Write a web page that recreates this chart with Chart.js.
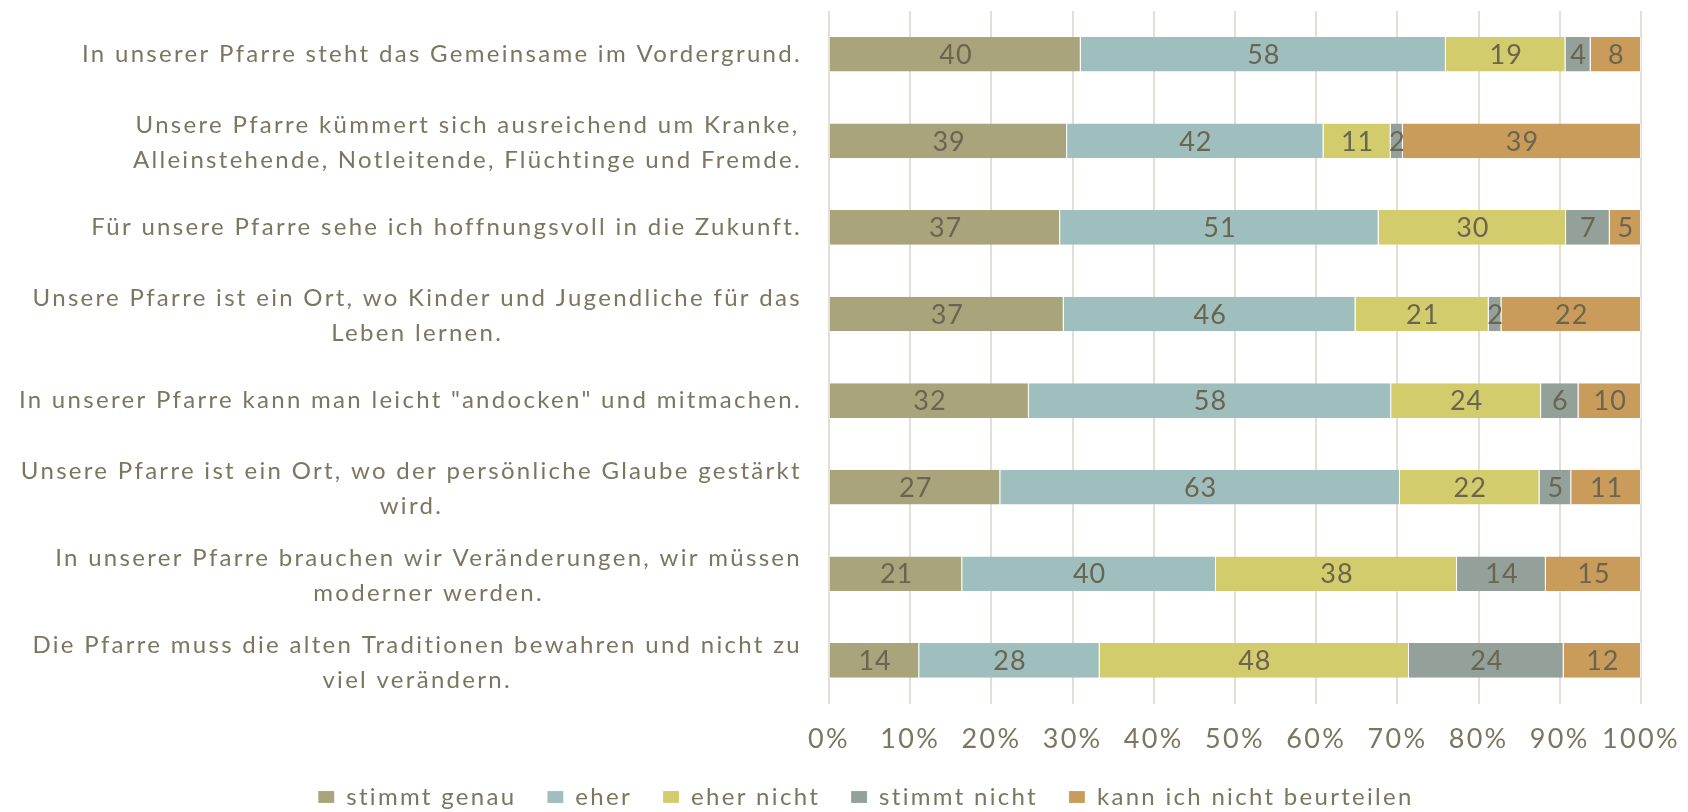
<!DOCTYPE html>
<html>
<head>
<meta charset="utf-8">
<script src="https://cdn.jsdelivr.net/npm/chart.js@4"></script>
<style>
  html, body { margin: 0; padding: 0; background: #ffffff; }
  #wrap { width: 1688px; height: 812px; position: relative; }
</style>
</head>
<body>
<div id="wrap"><canvas id="pfarreChart"></canvas></div>
<script>
const categories = [
  "In unserer Pfarre steht das Gemeinsame im Vordergrund.",
  ["Unsere Pfarre kümmert sich ausreichend um Kranke,", "Alleinstehende, Notleitende, Flüchtinge und Fremde."],
  "Für unsere Pfarre sehe ich hoffnungsvoll in die Zukunft.",
  ["Unsere Pfarre ist ein Ort, wo Kinder und Jugendliche für das", "Leben lernen."],
  "In unserer Pfarre kann man leicht \"andocken\" und mitmachen.",
  ["Unsere Pfarre ist ein Ort, wo der persönliche Glaube gestärkt", "wird."],
  ["In unserer Pfarre brauchen wir Veränderungen, wir müssen", "moderner werden."],
  ["Die Pfarre muss die alten Traditionen bewahren und nicht zu", "viel verändern."]
];

const seriesNames = ["stimmt genau", "eher", "eher nicht", "stimmt nicht", "kann ich nicht beurteilen"];

// counts per answer, one value per statement
const stimmtGenau = [40, 39, 37, 37, 32, 27, 21, 14];
const eher = [58, 42, 51, 46, 58, 63, 40, 28];
const eherNicht = [19, 11, 30, 21, 24, 22, 38, 48];
const stimmtNicht = [4, 2, 7, 2, 6, 5, 14, 24];
const kannNicht = [8, 39, 5, 22, 10, 11, 15, 12];

const xTicks = [0, 10, 20, 30, 40, 50, 60, 70, 80, 90, 100];

const colors = ["#a9a47c", "#9ebfbe", "#d3cc6c", "#93a19a", "#c99c5b"];
const textColor = "#7d7560";
const labelColor = "#6b6550";
const fontFamily = "Lato, 'Open Sans', sans-serif";
const spacing = "2.3px";

const counts = [stimmtGenau, eher, eherNicht, stimmtNicht, kannNicht];
const totals = categories.map((_, i) => counts.reduce((s, arr) => s + arr[i], 0));

const datasets = counts.map((arr, k) => ({
  label: seriesNames[k],
  data: arr.map((v, i) => (v / totals[i]) * 100),
  raw: arr,
  backgroundColor: colors[k],
  borderColor: "rgba(255,255,255,0.55)",
  borderWidth: { top: 0, bottom: 0, left: 0, right: 1 },
  borderSkipped: false,
  barPercentage: 0.4,
  categoryPercentage: 1.0,
}));

// wider letter spacing to get closer to the original's airy font
const letterSpacing = {
  id: "letterSpacing",
  beforeUpdate(chart) {
    chart.ctx.letterSpacing = spacing;
  },
  beforeDraw(chart) {
    chart.ctx.letterSpacing = spacing;
  },
};

// legend sits closer to the tick labels than Chart.js puts it
const legendShift = {
  id: "legendShift",
  afterLayout(chart) {
    chart.legend.top -= 20;
    chart.legend.bottom -= 20;
  },
};

// statement labels: lines centered on each other, block right-aligned
const categoryLabels = {
  id: "categoryLabels",
  afterDraw(chart) {
    const ctx = chart.ctx;
    const yScale = chart.scales.y;
    const right = chart.chartArea.left - 27;
    const lineHeight = 35;
    ctx.save();
    ctx.letterSpacing = spacing;
    ctx.font = "24px " + fontFamily;
    ctx.fillStyle = textColor;
    ctx.textAlign = "center";
    ctx.textBaseline = "middle";
    categories.forEach((lab, i) => {
      const lines = Array.isArray(lab) ? lab : [lab];
      const w = Math.max(...lines.map((l) => ctx.measureText(l).width));
      const cx = right - w / 2;
      const cy = yScale.getPixelForValue(i) + (lines.length > 1 ? 2 : 0);
      lines.forEach((l, j) => {
        ctx.fillText(l, cx, cy + (j - (lines.length - 1) / 2) * lineHeight);
      });
    });
    ctx.restore();
  },
};

// value labels inside the bar segments
const segmentLabels = {
  id: "segmentLabels",
  afterDatasetsDraw(chart) {
    const ctx = chart.ctx;
    ctx.save();
    ctx.letterSpacing = "1px";
    ctx.font = "27px " + fontFamily;
    ctx.fillStyle = labelColor;
    ctx.textAlign = "center";
    ctx.textBaseline = "middle";
    chart.data.datasets.forEach((ds, k) => {
      const meta = chart.getDatasetMeta(k);
      meta.data.forEach((bar, i) => {
        const x = (bar.x + bar.base) / 2 + 0.5;
        ctx.fillText(String(ds.raw[i]), x, bar.y + 1);
      });
    });
    ctx.restore();
  },
};

new Chart(document.getElementById("pfarreChart"), {
  type: "bar",
  data: {
    labels: categories.map((_, i) => i),
    datasets,
  },
  options: {
    indexAxis: "y",
    responsive: true,
    maintainAspectRatio: false,
    animation: false,
    layout: {
      padding: { left: 44, right: 0, top: 11, bottom: -27 },
    },
    scales: {
      x: {
        stacked: true,
        min: 0,
        max: 100,
        afterBuildTicks: (scale) => {
          scale.ticks = xTicks.map((v) => ({ value: v }));
        },
        afterFit: (scale) => {
          scale.paddingRight = 47;
        },
        grid: {
          color: "#e4dfd6",
          lineWidth: 2,
          drawTicks: false,
        },
        border: { display: false },
        ticks: {
          padding: 19,
          color: textColor,
          font: { family: fontFamily, size: 27 },
          callback: (v) => v + "%",
        },
      },
      y: {
        stacked: true,
        afterFit: (scale) => {
          scale.width = 785;
        },
        grid: { display: false },
        border: { display: false },
        ticks: { display: false },
      },
    },
    plugins: {
      legend: {
        position: "bottom",
        labels: {
          boxWidth: 16,
          boxHeight: 12,
          padding: 31,
          color: textColor,
          font: { family: fontFamily, size: 24 },
        },
      },
      tooltip: { enabled: false },
    },
  },
  plugins: [letterSpacing, legendShift, categoryLabels, segmentLabels],
});
</script>
</body>
</html>
